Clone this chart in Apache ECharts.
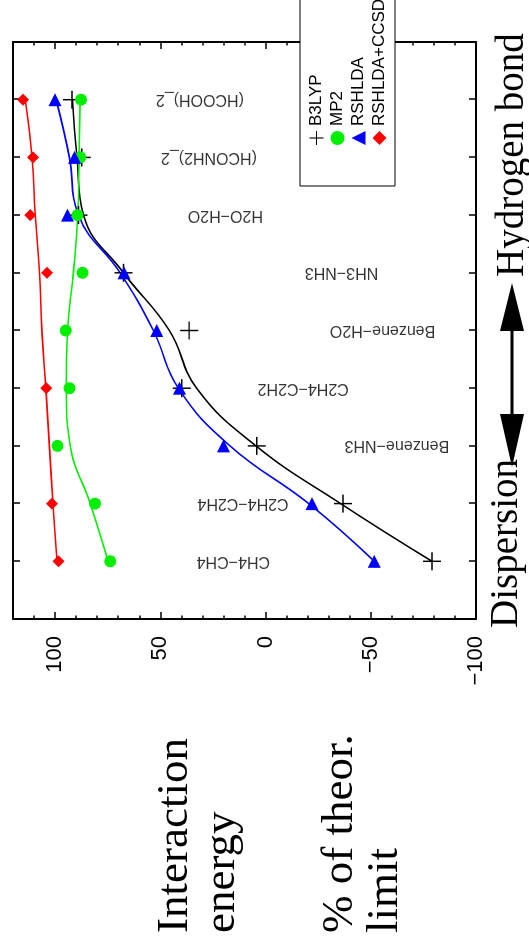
<!DOCTYPE html>
<html>
<head>
<meta charset="utf-8">
<script src="https://cdn.jsdelivr.net/npm/echarts@6/dist/echarts.min.js"></script>
<style>
    html, body { margin: 0; padding: 0; background: #fff; }
    body { width: 529px; height: 949px; overflow: hidden; position: relative; }
    /* the plot is drawn landscape and turned a quarter to the left */
    #main {
        position: absolute; left: 0; top: 0;
        width: 949px; height: 529px;
        transform-origin: 0 0;
        transform: translateY(949px) rotate(-90deg);
    }
</style>
</head>
<body>
<div id="main"></div>
<script>
var categories = ['CH4−CH4', 'C2H4−C2H4', 'Benzene−NH3', 'C2H4−C2H2', 'Benzene−H2O', 'NH3−NH3', 'H2O−H2O', '(HCONH2)_2', '(HCOOH)_2'];
// where each system name sits along the value axis
var labelAt = [15.3, 10.7, -62.4, -17.9, -55.6, -36.1, 19.1, 26.9, 31.2];

var names = ['B3LYP', 'MP2', 'RSHLDA', 'RSHLDA+CCSD'];
var b3lyp = [-79.1, -36.8, 4.2, 39.8, 36.3, 67.5, 88.9, 87.3, 92];
var mp2 = [73.8, 81, 98.9, 93.2, 94.9, 87, 89.4, 88.1, 87.7];
var rshlda = [-51.7, -22.1, 20, 40.9, 51.7, 67.2, 94.1, 90.8, 100];
var ccsd = [98.4, 101.5, null, 104.2, null, 103.9, 111.8, 110.5, 115.3];

// fitted curves at each system
var b3lypFit = [-79.1, -35.7, 4.5, 32.7, 45.7, 67.5, 86.5, 89.6, 91.7];
var mp2Fit = [74.8, 83.3, 92.8, 94.7, 94.1, 91.3, 89.2, 88.6, 88.1];
var rshldaFit = [-51.7, -20.5, 16.9, 41.4, 53.3, 69.1, 88.9, 93.2, 99.5];
var ccsdFit = [99.1, 101, 102.7, 104.4, 106.3, 107.4, 109.4, 111, 114.2];

var colors = ['#000000', '#00ee00', '#0000ff', '#ff0000'];
var plusPath = 'path://M0,9.2H20V10.8H0Z M9.2,0H10.8V20H9.2Z';

var sans = '"Liberation Sans", Arial, sans-serif';
var serif = '"Liberation Serif", "Times New Roman", serif';

function pairs(arr) {
    return arr.map(function (v, i) {
        return v == null ? null : [i + 1, v];
    }).filter(function (p) { return p; });
}

function xAxisAt(pos) {
    return {
        type: 'value', position: pos, min: 0, max: 10, interval: 1,
        axisLine: { show: true, onZero: false, lineStyle: { color: '#000', width: 2 } },
        axisTick: { show: true, inside: true, length: 7, lineStyle: { color: '#000', width: 1.5 } },
        axisLabel: { show: false },
        splitLine: { show: false }
    };
}

function yAxisAt(pos, interval, tickLen, withLine, withLabel) {
    return {
        type: 'value', position: pos, min: -100, max: 120, interval: interval,
        axisLine: { show: withLine, onZero: false, lineStyle: { color: '#000', width: 2 } },
        axisTick: { show: true, inside: true, length: tickLen, lineStyle: { color: '#000', width: 1.5 } },
        axisLabel: {
            show: withLabel,
            showMaxLabel: false,
            margin: 17,
            fontSize: 22,
            fontFamily: sans,
            color: '#000',
            formatter: function (v) { return String(v).replace('-', '−'); }
        },
        splitLine: { show: false }
    };
}

function fitLine(name, data, color) {
    return {
        name: name, type: 'line', data: pairs(data),
        smooth: 0.45, showSymbol: false, silent: true,
        lineStyle: { color: color, width: 1.6 },
        z: 2
    };
}

function points(name, data, color, symbol, size, rotate) {
    return {
        name: name, type: 'scatter', data: pairs(data),
        symbol: symbol, symbolSize: size, symbolRotate: rotate || 0,
        itemStyle: { color: color, opacity: 1 },
        silent: true,
        z: 3
    };
}

var chart = echarts.init(document.getElementById('main'), null, { renderer: 'canvas' });

var option = {
    backgroundColor: '#fff',
    animation: false,
    grid: { left: 330, right: 42, top: 13, bottom: 53, containLabel: false },
    xAxis: [xAxisAt('bottom'), xAxisAt('top')],
    yAxis: [
        yAxisAt('left', 50, 7, true, true),
        yAxisAt('right', 50, 7, true, false),
        yAxisAt('left', 10, 3.5, false, false),
        yAxisAt('right', 10, 3.5, false, false)
    ],
    legend: {
        data: names,
        orient: 'vertical',
        left: 763, top: 300,
        padding: [8, 200, 7, 41],
        itemWidth: 14, itemHeight: 14, itemGap: 4,
        backgroundColor: '#fff',
        borderColor: '#000', borderWidth: 1,
        selectedMode: false,
        textStyle: { fontSize: 17, lineHeight: 16, fontFamily: sans, color: '#000' },
        z: 10
    },
    series: [
        fitLine('B3LYP fit', b3lypFit, colors[0]),
        fitLine('MP2 fit', mp2Fit, colors[1]),
        fitLine('RSHLDA fit', rshldaFit, colors[2]),
        fitLine('RSHLDA+CCSD fit', ccsdFit, colors[3]),
        points(names[0], b3lyp, colors[0], plusPath, 18),
        points(names[1], mp2, colors[1], 'circle', 12),
        points(names[2], rshlda, colors[2], 'triangle', 13, -90),
        points(names[3], ccsd, colors[3], 'diamond', 12),
        {
            name: 'systems', type: 'scatter', silent: true,
            data: pairs(labelAt),
            symbolSize: 1,
            itemStyle: { color: 'rgba(0,0,0,0)' },
            label: {
                show: true, position: 'inside', rotate: 90,
                fontSize: 16, fontFamily: sans, color: '#000',
                formatter: function (p) { return categories[p.dataIndex]; }
            },
            z: 1
        }
    ],
    graphic: [
        { type: 'text', x: 16, y: 175, style: { text: 'Interaction', font: '45px ' + serif, fill: '#000', align: 'left', verticalAlign: 'middle', textAlign: 'left', textVerticalAlign: 'middle' } },
        { type: 'text', x: 16, y: 222, style: { text: 'energy', font: '45px ' + serif, fill: '#000', align: 'left', verticalAlign: 'middle', textAlign: 'left', textVerticalAlign: 'middle' } },
        { type: 'text', x: 16, y: 340, style: { text: '% of theor.', font: '45px ' + serif, fill: '#000', align: 'left', verticalAlign: 'middle', textAlign: 'left', textVerticalAlign: 'middle' } },
        { type: 'text', x: 16, y: 385, style: { text: 'limit', font: '45px ' + serif, fill: '#000', align: 'left', verticalAlign: 'middle', textAlign: 'left', textVerticalAlign: 'middle' } },
        { type: 'text', x: 321, y: 507, style: { text: 'Dispersion', font: '39px ' + serif, fill: '#000', align: 'left', verticalAlign: 'middle', textAlign: 'left', textVerticalAlign: 'middle' } },
        { type: 'text', x: 672, y: 513, style: { text: 'Hydrogen bond', font: '39px ' + serif, fill: '#000', align: 'left', verticalAlign: 'middle', textAlign: 'left', textVerticalAlign: 'middle' } },
        // double arrow between the two regimes
        { type: 'line', shape: { x1: 530, y1: 512, x2: 624, y2: 512 }, style: { stroke: '#000', lineWidth: 3 } },
        { type: 'polygon', shape: { points: [[482, 512], [535, 500], [535, 524]] }, style: { fill: '#000' } },
        { type: 'polygon', shape: { points: [[666, 512], [618, 500], [618, 524]] }, style: { fill: '#000' } }
    ]
};

chart.setOption(option);
</script>
</body>
</html>
